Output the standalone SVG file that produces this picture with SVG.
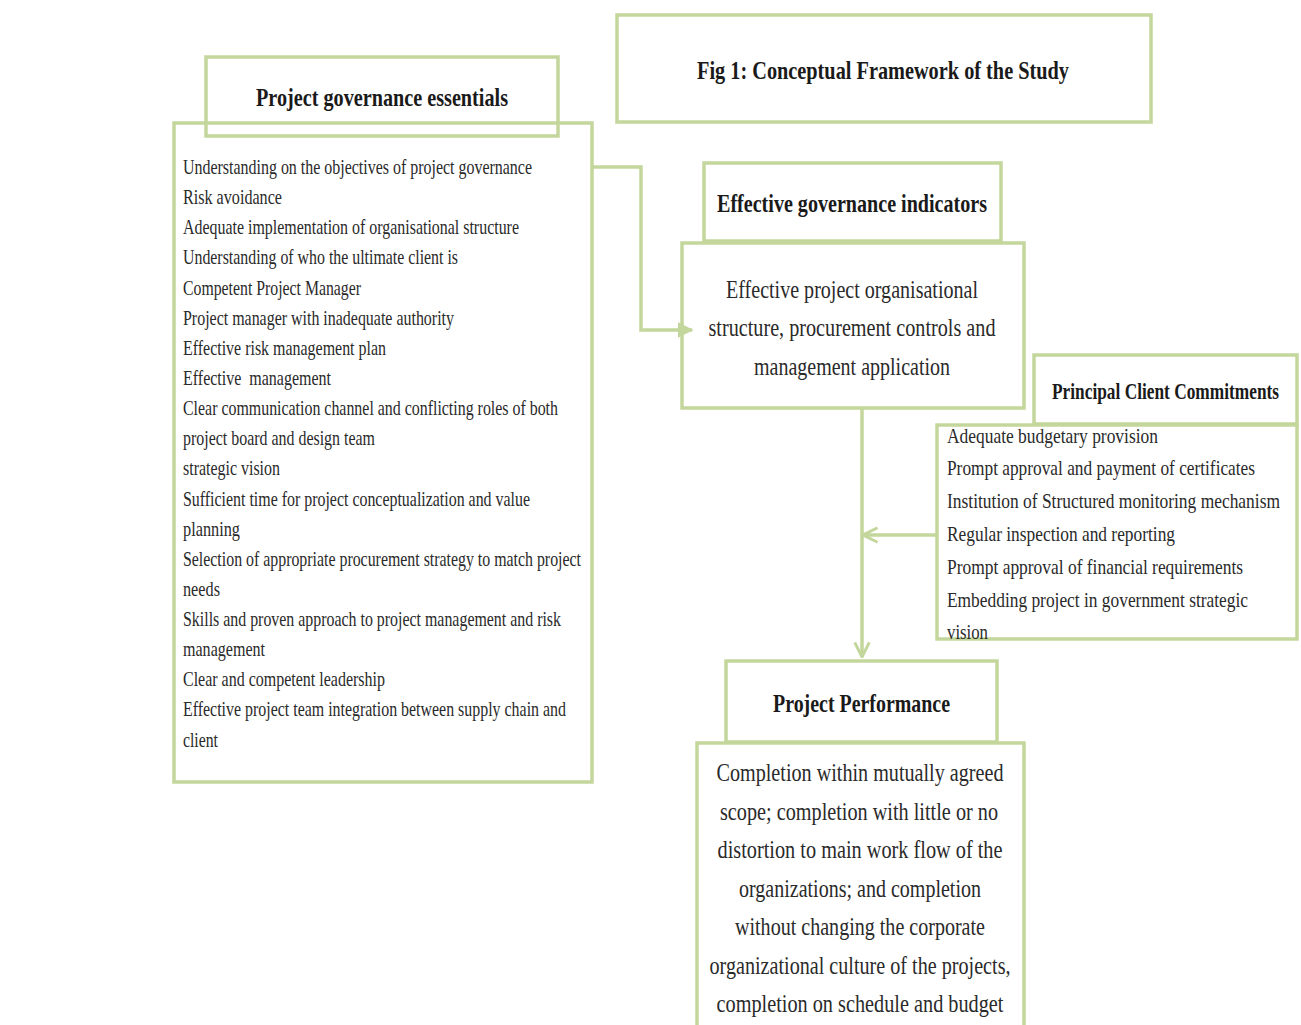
<svg xmlns="http://www.w3.org/2000/svg" width="1301" height="1025" viewBox="0 0 1301 1025">
<style>
.box{fill:none;stroke:#c3d69b;stroke-width:3.5}
.t{font-family:"Liberation Serif","Times New Roman",serif;fill:#2a2a2a}
.l{font-size:21px}
.c{font-size:26px;text-anchor:middle}
.h{font-size:25px;font-weight:bold;fill:#1a1a1a}
.con{fill:none;stroke:#c3d69b;stroke-width:3.5}
</style>
<defs>
<marker id="tri" viewBox="0 0 10 10" refX="9" refY="5" markerWidth="4.5" markerHeight="5" orient="auto" markerUnits="strokeWidth"><path d="M0,0 L10,5 L0,10 z" fill="#c3d69b"/></marker>
<marker id="chev" viewBox="0 0 12 12" refX="11" refY="6" markerWidth="5" markerHeight="5" orient="auto" markerUnits="strokeWidth"><path d="M1,1 L11,6 L1,11" fill="none" stroke="#c3d69b" stroke-width="2"/></marker>
</defs>
<rect width="1301" height="1025" fill="#ffffff"/>

<g id="title">
<rect class="box" x="617" y="15" width="534" height="107"/>
<text class="t h" x="697" y="79" textLength="372" lengthAdjust="spacingAndGlyphs">Fig 1: Conceptual Framework of the Study</text>
</g>

<g id="essentials-header">
<rect class="box" x="206" y="57" width="352" height="79"/>
<text class="t h" x="256" y="106" textLength="252" lengthAdjust="spacingAndGlyphs">Project governance essentials</text>
</g>

<g id="essentials-list">
<rect class="box" x="174" y="123" width="418" height="659"/>
<g class="t l">
<text x="183" y="174" textLength="349" lengthAdjust="spacingAndGlyphs">Understanding on the objectives of project governance</text>
<text x="183" y="204" textLength="99" lengthAdjust="spacingAndGlyphs">Risk avoidance</text>
<text x="183" y="234" textLength="336" lengthAdjust="spacingAndGlyphs">Adequate implementation of organisational structure</text>
<text x="183" y="264" textLength="275" lengthAdjust="spacingAndGlyphs">Understanding of who the ultimate client is</text>
<text x="183" y="295" textLength="178" lengthAdjust="spacingAndGlyphs">Competent Project Manager</text>
<text x="183" y="325" textLength="271" lengthAdjust="spacingAndGlyphs">Project manager with inadequate authority</text>
<text x="183" y="355" textLength="203" lengthAdjust="spacingAndGlyphs">Effective risk management plan</text>
<text x="183" y="385" textLength="148" lengthAdjust="spacingAndGlyphs" xml:space="preserve">Effective  management</text>
<text x="183" y="415" textLength="375" lengthAdjust="spacingAndGlyphs">Clear communication channel and conflicting roles of both</text>
<text x="183" y="445" textLength="192" lengthAdjust="spacingAndGlyphs">project board and design team</text>
<text x="183" y="475" textLength="97" lengthAdjust="spacingAndGlyphs">strategic vision</text>
<text x="183" y="506" textLength="347" lengthAdjust="spacingAndGlyphs">Sufficient time for project conceptualization and value</text>
<text x="183" y="536" textLength="57" lengthAdjust="spacingAndGlyphs">planning</text>
<text x="183" y="566" textLength="398" lengthAdjust="spacingAndGlyphs">Selection of appropriate procurement strategy to match project</text>
<text x="183" y="596" textLength="37" lengthAdjust="spacingAndGlyphs">needs</text>
<text x="183" y="626" textLength="378" lengthAdjust="spacingAndGlyphs">Skills and proven approach to project management and risk</text>
<text x="183" y="656" textLength="82" lengthAdjust="spacingAndGlyphs">management</text>
<text x="183" y="686" textLength="202" lengthAdjust="spacingAndGlyphs">Clear and competent leadership</text>
<text x="183" y="716" textLength="383" lengthAdjust="spacingAndGlyphs">Effective project team integration between supply chain and</text>
<text x="183" y="747" textLength="35" lengthAdjust="spacingAndGlyphs">client</text>
</g>
</g>

<g id="indicators-header">
<rect class="box" x="704" y="163" width="297" height="78"/>
<text class="t h" x="717" y="212" textLength="270" lengthAdjust="spacingAndGlyphs">Effective governance indicators</text>
</g>

<g id="indicators">
<rect class="box" x="682" y="243" width="342" height="165"/>
<g class="t c">
<text x="852" y="298" textLength="252" lengthAdjust="spacingAndGlyphs">Effective project organisational</text>
<text x="852" y="336" textLength="287" lengthAdjust="spacingAndGlyphs">structure, procurement controls and</text>
<text x="852" y="375" textLength="196" lengthAdjust="spacingAndGlyphs">management application</text>
</g>
</g>

<g id="client-header">
<rect class="box" x="1034" y="355" width="263" height="69"/>
<g transform="translate(1052,0) scale(0.75,1)">
<text class="t h" x="0" y="399" textLength="302.7" lengthAdjust="spacingAndGlyphs" style="font-size:23px">Principal Client Commitments</text>
</g>
</g>

<g id="client-list">
<rect class="box" x="937" y="425" width="360" height="214"/>
<g class="t l" transform="translate(947,0) scale(0.75,1)">
<text x="0" y="443" textLength="281.3" lengthAdjust="spacingAndGlyphs">Adequate budgetary provision</text>
<text x="0" y="475" textLength="410.7" lengthAdjust="spacingAndGlyphs">Prompt approval and payment of certificates</text>
<text x="0" y="508" textLength="444" lengthAdjust="spacingAndGlyphs">Institution of Structured monitoring mechanism</text>
<text x="0" y="541" textLength="304" lengthAdjust="spacingAndGlyphs">Regular inspection and reporting</text>
<text x="0" y="574" textLength="394.7" lengthAdjust="spacingAndGlyphs">Prompt approval of financial requirements</text>
<text x="0" y="607" textLength="401.3" lengthAdjust="spacingAndGlyphs">Embedding project in government strategic</text>
<text x="0" y="639" textLength="54.7" lengthAdjust="spacingAndGlyphs">vision</text>
</g>
</g>

<g id="performance-header">
<rect class="box" x="726" y="661" width="271" height="81"/>
<text class="t h" x="773" y="712" textLength="177" lengthAdjust="spacingAndGlyphs">Project Performance</text>
</g>

<g id="performance">
<rect class="box" x="697" y="743" width="327" height="290"/>
<g class="t c">
<text x="860" y="781" textLength="287" lengthAdjust="spacingAndGlyphs">Completion within mutually agreed</text>
<text x="859" y="820" textLength="278" lengthAdjust="spacingAndGlyphs">scope; completion with little or no</text>
<text x="860" y="858" textLength="285" lengthAdjust="spacingAndGlyphs">distortion to main work flow of the</text>
<text x="860" y="897" textLength="242" lengthAdjust="spacingAndGlyphs">organizations; and completion</text>
<text x="860" y="935" textLength="250" lengthAdjust="spacingAndGlyphs">without changing the corporate</text>
<text x="860" y="974" textLength="301" lengthAdjust="spacingAndGlyphs">organizational culture of the projects,</text>
<text x="860" y="1012" textLength="287" lengthAdjust="spacingAndGlyphs">completion on schedule and budget</text>
</g>
</g>

<g id="connectors">
<path class="con" d="M592,167 H641 V330 H692" marker-end="url(#tri)"/>
<path class="con" d="M862,408 V657" marker-end="url(#chev)"/>
<path class="con" d="M936,535 H863" marker-end="url(#chev)"/>
</g>
</svg>
